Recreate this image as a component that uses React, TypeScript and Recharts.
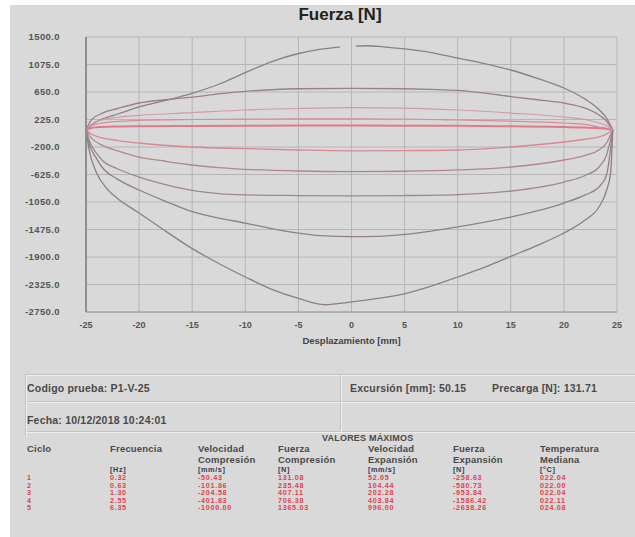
import { CartesianGrid, Label, Line, LineChart, XAxis, YAxis } from 'recharts'

// Force [N] vs displacement [mm], one closed loop per test cycle.
// Each loop is split into its compression (upper) and expansion (lower) branch.
type Pair = [number, number | null]

const ciclo1Compresion: Pair[] = [
  [-25, 63], [-24.5, 95], [-23.5, 110], [-22, 118], [-20, 122], [-15, 126], [-10, 129], [-5, 131],
  [0, 131.08], [5, 130], [10, 128], [15, 120], [20, 110], [22, 100], [23.3, 90], [24, 80], [24.6, 63],
]
const ciclo2Compresion: Pair[] = [
  [-25, 63], [-24.5, 130], [-23.5, 170], [-22, 195], [-20, 210], [-15, 225], [-10, 232], [-5, 235],
  [0, 235.48], [5, 233], [10, 217], [15, 200], [20, 171], [22, 150], [23.3, 109], [24, 90], [24.6, 63],
]
const ciclo3Compresion: Pair[] = [
  [-25, 63], [-24.5, 150], [-23.5, 220], [-22, 260], [-20, 290], [-15, 330], [-10, 372], [-5, 395],
  [0, 407.11], [5, 400], [10, 372], [15, 325], [20, 264], [22, 225], [23.3, 171], [24, 130], [24.6, 63],
]
const ciclo4Compresion: Pair[] = [
  [-25, 63], [-24.5, 220], [-23.5, 320], [-22, 395], [-20, 480], [-17.5, 530], [-15, 570], [-12.5, 620],
  [-10, 660], [-7.5, 685], [-5, 700], [0, 706.38], [5, 700], [7.5, 690], [10, 675], [15, 580],
  [17.5, 530], [20, 478], [22, 400], [23.3, 295], [24, 200], [24.6, 63],
]
// the outermost loop has a short gap in its upper branch near x = 0
const ciclo5Compresion: Pair[] = [
  [-25, 63], [-24.5, 140], [-23.5, 230], [-22, 310], [-20, 420], [-17.5, 520], [-15, 630],
  [-12.5, 770], [-10, 950], [-7.5, 1120], [-5, 1245], [-3, 1310], [-1.1, 1345], [-0.5, null],
  [0.4, 1358], [1.5, 1365.03], [3, 1348], [5, 1315], [7.5, 1260], [10, 1175], [12.5, 1090],
  [15, 990], [17.5, 860], [20, 712], [22, 540], [23.3, 380], [24, 250], [24.6, 63],
]

const ciclo1Expansion: Pair[] = [
  [-25, 63], [-24.5, 0], [-23.5, -60], [-22, -100], [-20, -138], [-15, -200], [-10, -225], [-5, -246],
  [0, -258.63], [5, -255], [10, -246], [15, -200], [20, -123], [22, -80], [23.3, -45], [24, 0], [24.6, 63],
]
const ciclo2Expansion: Pair[] = [
  [-25, 63], [-24.5, -60], [-23.5, -170], [-22, -260], [-20, -355], [-17.5, -420], [-15, -478],
  [-12.5, -520], [-10, -545], [-5, -571], [0, -580.73], [5, -575], [10, -555], [15, -509],
  [20, -401], [22, -330], [23.3, -246], [24, -140], [24.6, 63],
]
const ciclo3Expansion: Pair[] = [
  [-25, 63], [-24.7, -100], [-24, -300], [-23.5, -401], [-22, -540], [-20, -664], [-17.5, -780],
  [-15, -870], [-12.5, -920], [-10, -940], [-5, -950], [0, -953.84], [5, -950], [10, -935],
  [15, -880], [20, -741], [22, -640], [23.3, -509], [24, -330], [24.6, 63],
]
const ciclo4Expansion: Pair[] = [
  [-25, 63], [-24.7, -150], [-24, -380], [-23.5, -509], [-22, -700], [-20, -864], [-17.5, -1040],
  [-15, -1200], [-12.5, -1300], [-10, -1375], [-7.5, -1460], [-5, -1530], [-2.5, -1575],
  [0, -1586.42], [2.5, -1580], [5, -1550], [7.5, -1500], [10, -1436], [15, -1282], [20, -1066],
  [22, -940], [23.3, -818], [24, -640], [24.6, 63],
]
const ciclo5Expansion: Pair[] = [
  [-25, 63], [-24.7, -250], [-24, -602], [-23, -850], [-22, -1000], [-20, -1220], [-17.5, -1500],
  [-15, -1770], [-12.5, -2000], [-10, -2209], [-7.5, -2400], [-5, -2540], [-2.5, -2638.26],
  [0, -2595], [2.5, -2540], [5, -2470], [7.5, -2350], [10, -2209], [12.5, -2060], [15, -1890],
  [17.5, -1720], [20, -1529], [22, -1330], [23.3, -1127], [24, -880], [24.4, -600], [24.6, 63],
]

const yTicks = [1500, 1075, 650, 225, -200, -625, -1050, -1475, -1900, -2325, -2750]
const xTicks = [-25, -20, -15, -10, -5, 0, 5, 10, 15, 20, 25]

// summary table
const ciclos = ['1', '2', '3', '4', '5']
const frecuencia = ['0.32', '0.63', '1.30', '2.55', '6.35']
const velCompresion = ['-50.43', '-101.86', '-204.58', '-401.83', '-1000.00']
const fuerzaCompresion = ['131.08', '235.48', '407.11', '706.38', '1365.03']
const velExpansion = ['52.05', '104.44', '202.28', '403.84', '996.00']
const fuerzaExpansion = ['-258.63', '-580.73', '-953.84', '-1586.42', '-2638.26']
const temperatura = ['022.04', '022.00', '022.04', '022.11', '024.08']

const toPoints = (pairs: Pair[]) => pairs.map(([x, f]) => ({ x, f }))

const branches = [
  { key: 'c5c', data: ciclo5Compresion, color: '#8c7f87', width: 1.3 },
  { key: 'c4c', data: ciclo4Compresion, color: '#9a8088', width: 1.3 },
  { key: 'c3c', data: ciclo3Compresion, color: '#d49aa4', width: 1.2 },
  { key: 'c2c', data: ciclo2Compresion, color: '#d98c98', width: 1.2 },
  { key: 'c1c', data: ciclo1Compresion, color: '#e07a86', width: 2 },
  { key: 'c1e', data: ciclo1Expansion, color: '#d98894', width: 1.3 },
  { key: 'c2e', data: ciclo2Expansion, color: '#b3868f', width: 1.3 },
  { key: 'c3e', data: ciclo3Expansion, color: '#a0868e', width: 1.3 },
  { key: 'c4e', data: ciclo4Expansion, color: '#8f8088', width: 1.3 },
  { key: 'c5e', data: ciclo5Expansion, color: '#8c7f87', width: 1.3 },
]

const font = '"Liberation Sans", Arial, sans-serif'

const columns = [
  { x: 27, head: ['Ciclo', ''], unit: '', values: ciclos },
  { x: 110, head: ['Frecuencia', ''], unit: '[Hz]', values: frecuencia },
  { x: 198, head: ['Velocidad', 'Compresión'], unit: '[mm/s]', values: velCompresion },
  { x: 278, head: ['Fuerza', 'Compresión'], unit: '[N]', values: fuerzaCompresion },
  { x: 368, head: ['Velocidad', 'Expansión'], unit: '[mm/s]', values: velExpansion },
  { x: 453, head: ['Fuerza', 'Expansión'], unit: '[N]', values: fuerzaExpansion },
  { x: 540, head: ['Temperatura', 'Mediana'], unit: '[°C]', values: temperatura },
]

function Text({ x, y, children, size = 10.5, color = '#4a4a4a', spacing = 0.2 }: any) {
  return (
    <div
      style={{
        position: 'absolute', left: x, top: y, fontFamily: font, fontSize: size, fontWeight: 700,
        color, whiteSpace: 'nowrap', lineHeight: 1, letterSpacing: spacing,
      }}
    >
      {children}
    </div>
  )
}

function Rule({ x, y, w, h }: { x: number; y: number; w: number; h: number }) {
  return <div style={{ position: 'absolute', left: x, top: y, width: w, height: h, background: '#c2c2c2', boxShadow: '1px 1px 0 #efefef' }} />
}

export default function App() {
  return (
    <div style={{ position: 'absolute', left: 0, top: 0, width: 635, height: 537, background: '#fff', overflow: 'hidden' }}>
      <div style={{ position: 'absolute', left: 10, top: 5, width: 625, height: 532, background: '#d9d9d9' }} />

      <div style={{ position: 'absolute', left: 240, top: 5, width: 200, textAlign: 'center', fontFamily: font, fontSize: 17, fontWeight: 700, color: '#222' }}>
        Fuerza [N]
      </div>

      <div style={{ position: 'absolute', left: 0, top: 0 }}>
        <LineChart width={635} height={360} margin={{ top: 37, right: 18, bottom: 0, left: 0 }}>
          <CartesianGrid stroke="#b6b6b6" strokeWidth={1} />
          <XAxis
            dataKey="x"
            type="number"
            domain={[-25, 25]}
            ticks={xTicks}
            allowDataOverflow
            height={48}
            axisLine={{ stroke: '#9c9c9c' }}
            tickLine={false}
            tickMargin={4}
            tick={{ fill: '#555', fontSize: 9, fontWeight: 700, fontFamily: font }}
          >
            <Label value="Desplazamiento [mm]" position="insideBottom" offset={16} fill="#444" fontSize={9.5} fontWeight={700} fontFamily={font} />
          </XAxis>
          <YAxis
            type="number"
            domain={[-2750, 1500]}
            ticks={yTicks}
            allowDataOverflow
            width={86}
            axisLine={{ stroke: '#8e8e8e', strokeWidth: 2 }}
            tickLine={false}
            tickMargin={20}
            tickFormatter={(v: number) => v.toFixed(1)}
            tick={{ fill: '#555', fontSize: 9.5, fontWeight: 700, fontFamily: font, letterSpacing: 0.4 }}
          />
          {branches.map((b) => (
            <Line
              key={b.key}
              data={toPoints(b.data)}
              dataKey="f"
              type="monotone"
              stroke={b.color}
              strokeWidth={b.width}
              dot={false}
              activeDot={false}
              isAnimationActive={false}
            />
          ))}
        </LineChart>
      </div>

      {/* test information panel */}
      <Rule x={25} y={374} w={610} h={1} />
      <Rule x={25} y={401} w={610} h={1} />
      <Rule x={25} y={431} w={610} h={1} />
      <Rule x={25} y={374} w={1} h={62} />
      <Rule x={340} y={374} w={1} h={58} />
      <Text x={27} y={383}>Codigo prueba: P1-V-25</Text>
      <Text x={350} y={383}>Excursión [mm]: 50.15</Text>
      <Text x={492} y={383}>Precarga [N]: 131.71</Text>
      <Text x={27} y={415}>Fecha: 10/12/2018 10:24:01</Text>

      <Text x={322} y={434} size={9}>VALORES MÁXIMOS</Text>
      {columns.map((c) => (
        <div key={c.x}>
          <Text x={c.x} y={444} size={9.5}>{c.head[0]}</Text>
          <Text x={c.x} y={455} size={9.5}>{c.head[1]}</Text>
          <Text x={c.x} y={466} size={7.3} color="#333a55" spacing={0.6}>{c.unit}</Text>
          {c.values.map((v, i) => (
            <Text key={i} x={c.x} y={474 + i * 7.6} size={7.2} color="#e0404c" spacing={0.7}>{v}</Text>
          ))}
        </div>
      ))}
    </div>
  )
}
